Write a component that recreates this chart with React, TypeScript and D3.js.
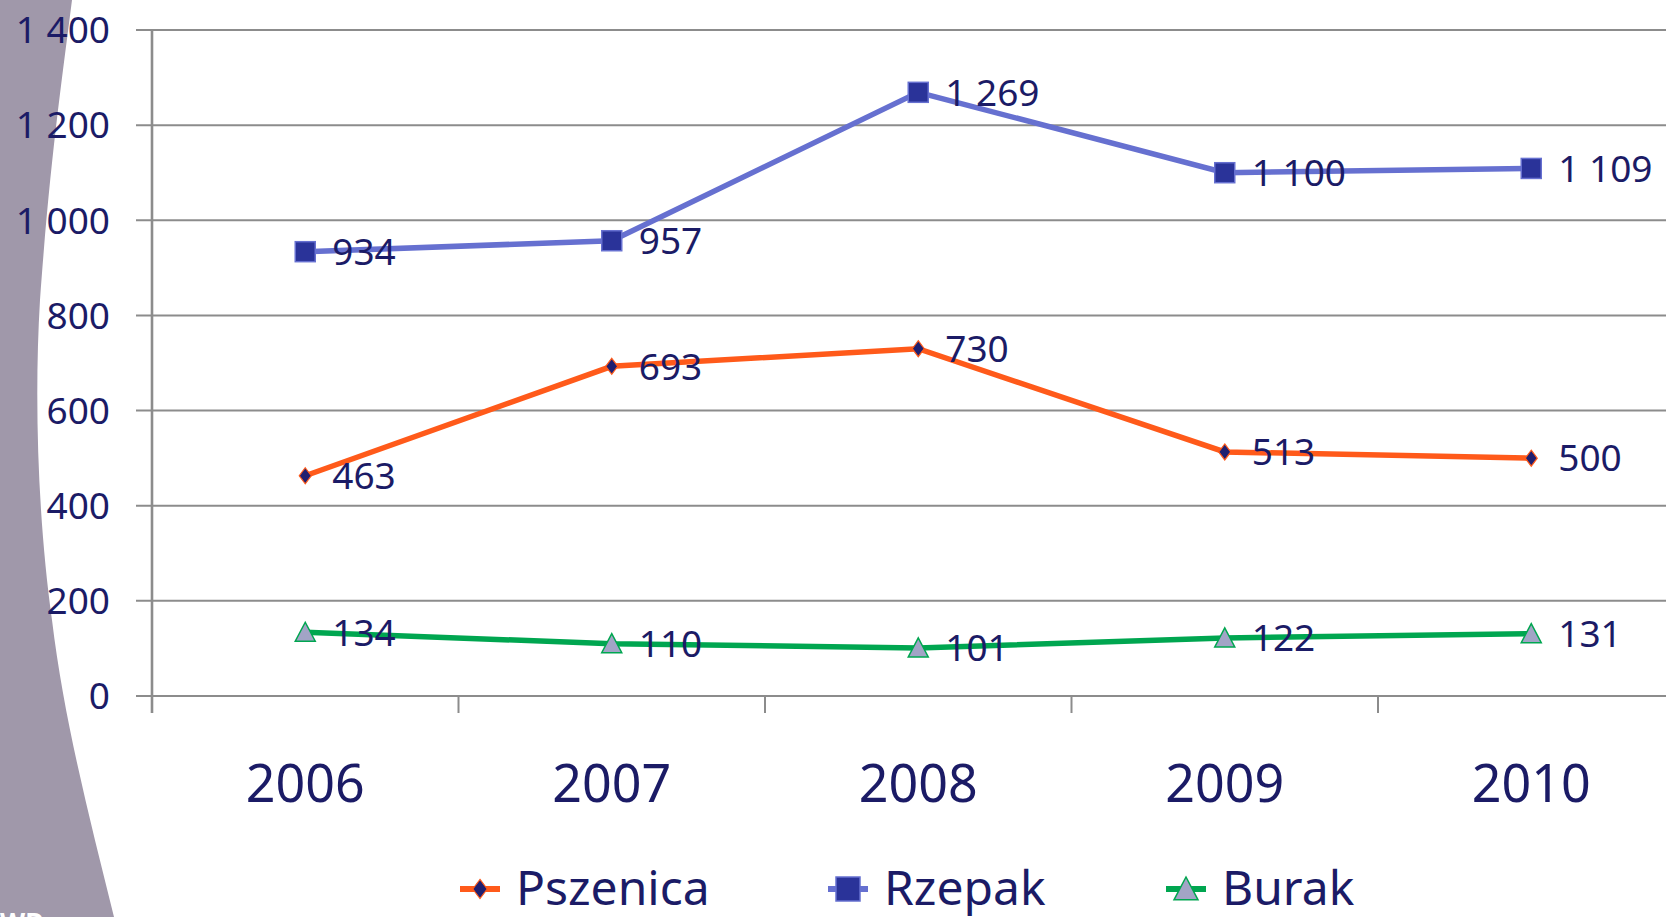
import React from "react";
import * as d3 from "d3";

const categories = ["2006", "2007", "2008", "2009", "2010"];
const pszenica = [463, 693, 730, 513, 500];
const rzepak = [934, 957, 1269, 1100, 1109];
const burak = [134, 110, 101, 122, 131];
const yTicks = [0, 200, 400, 600, 800, 1000, 1200, 1400];

const W = 1666;
const H = 917;
const TEXT = "#1b1b66";
const GRID = "#8c8c8c";
const FONT = "'Noto Sans', 'Open Sans', sans-serif";

const fmt = (v: number) => {
  const s = String(v);
  return s.length > 3 ? s.slice(0, s.length - 3) + " " + s.slice(-3) : s;
};

export default function App() {
  const x0 = 152;
  const band = 306.5;
  const x = d3
    .scaleBand<string>()
    .domain(categories)
    .range([x0, x0 + band * categories.length]);
  const cx = (c: string) => (x(c) as number) + x.bandwidth() / 2;
  const y = d3.scaleLinear().domain([0, 1400]).range([696, 30]);
  const line = d3
    .line<number>()
    .x((_, i) => cx(categories[i]))
    .y((d) => y(d));

  const series = [
    { name: "Pszenica", data: pszenica, color: "#ff5a1a", marker: "diamond" },
    { name: "Rzepak", data: rzepak, color: "#6670d0", marker: "square" },
    { name: "Burak", data: burak, color: "#00a650", marker: "triangle" },
  ];

  const marker = (m: string, px: number, py: number, color: string, key: string, s = 1) => {
    if (m === "diamond")
      return (
        <path
          key={key}
          d={`M${px},${py - 8 * s} L${px + 6 * s},${py} L${px},${py + 8 * s} L${px - 6 * s},${py} Z`}
          fill="#1f1f70"
          stroke={color}
          strokeWidth={1.2}
        />
      );
    if (m === "square")
      return (
        <rect
          key={key}
          x={px - 10 * s}
          y={py - 10 * s}
          width={20 * s}
          height={20 * s}
          fill="#2a3399"
          stroke={color}
          strokeWidth={1.5}
        />
      );
    return (
      <path
        key={key}
        d={`M${px},${py - 10 * s} L${px + 10 * s},${py + 9 * s} L${px - 10 * s},${py + 9 * s} Z`}
        fill="#a2a4c6"
        stroke={color}
        strokeWidth={1.5}
      />
    );
  };

  const legendItems = [
    { s: series[0], lx: 460, tx: 516 },
    { s: series[1], lx: 828, tx: 884 },
    { s: series[2], lx: 1166, tx: 1222 },
  ];

  const ticksX = d3.range(categories.length + 1).map((i) => x0 + i * band);

  return (
    <svg
      width={W}
      height={H}
      style={{ position: "absolute", left: 0, top: 0, background: "#fff" }}
      fontFamily={FONT}
    >
      <rect width={W} height={H} fill="#fff" />
      <path
        d="M0,0 L72,0 C62,80 50,160 40,300 C34,400 38,520 52,620 C64,720 90,820 114,917 L0,917 Z"
        fill="#a098aa"
      />
      <text x={0} y={932} fill="#fff" fontSize={26} fontWeight="bold" fontFamily={FONT}>
        WD
      </text>
      {yTicks.map((t) => (
        <line key={t} x1={136} x2={W} y1={y(t)} y2={y(t)} stroke={GRID} strokeWidth={2} />
      ))}
      <line x1={x0} x2={x0} y1={y(1400)} y2={713} stroke={GRID} strokeWidth={2.6} />
      {ticksX.map((tx, i) => (
        <line key={i} x1={tx} x2={tx} y1={y(0)} y2={713} stroke={GRID} strokeWidth={2} />
      ))}
      {yTicks.map((t) => (
        <text
          key={t}
          x={110}
          y={y(t)}
          dy="0.36em"
          textAnchor="end"
          fill={TEXT}
          fontSize={37}
        >
          {fmt(t)}
        </text>
      ))}
      {categories.map((c) => (
        <text key={c} x={cx(c)} y={783} dy="0.36em" textAnchor="middle" fill={TEXT} fontSize={52}>
          {c}
        </text>
      ))}
      {series.map((s) => (
        <g key={s.name}>
          <path d={line(s.data) || ""} fill="none" stroke={s.color} strokeWidth={5.5} />
          {s.data.map((v, i) => marker(s.marker, cx(categories[i]), y(v), s.color, s.name + i))}
          {s.data.map((v, i) => (
            <text
              key={i}
              x={cx(categories[i]) + 27}
              y={y(v)}
              dy="0.36em"
              fill={TEXT}
              fontSize={37}
            >
              {fmt(v)}
            </text>
          ))}
        </g>
      ))}
      {legendItems.map(({ s, lx, tx }) => (
        <g key={s.name}>
          <line x1={lx} x2={lx + 40} y1={889} y2={889} stroke={s.color} strokeWidth={6} />
          {marker(s.marker, lx + 20, 889, s.color, "lg" + s.name, 1.2)}
          <text x={tx} y={888} dy="0.36em" fill={TEXT} fontSize={48}>
            {s.name}
          </text>
        </g>
      ))}
    </svg>
  );
}
